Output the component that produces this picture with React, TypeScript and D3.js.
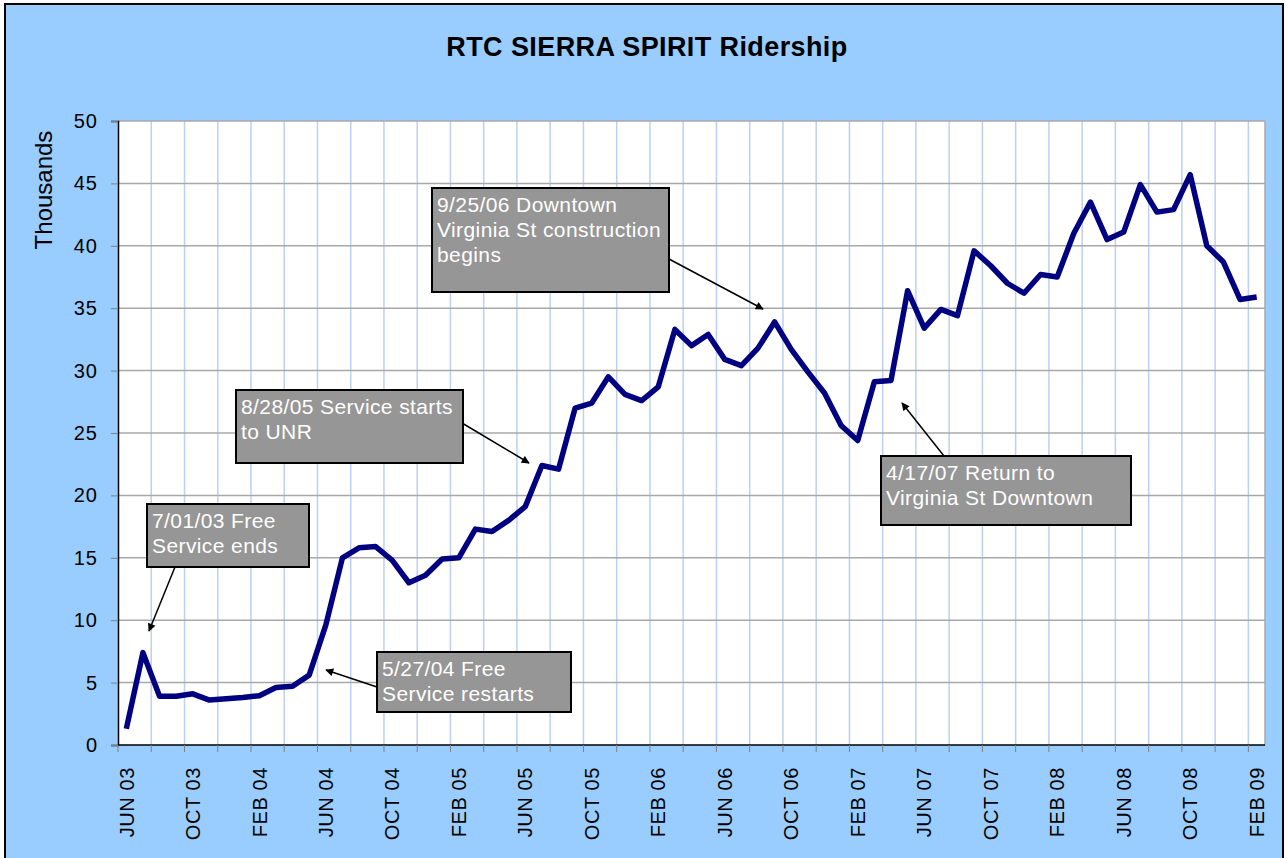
import React, { useEffect, useRef } from 'react';
import * as d3 from 'd3';

// monthly ridership, thousands, JUN 03 .. FEB 09
const riders = [
  1.3, 7.4, 3.9, 3.9, 4.1, 3.6, 3.7,
  3.8, 3.95, 4.6, 4.7, 5.6, 9.6, 15.0, 15.8, 15.9, 14.8, 13.0, 13.6,
  14.9, 15.0, 17.3, 17.1, 18.0, 19.1, 22.4, 22.1, 27.0, 27.4, 29.5, 28.1,
  27.6, 28.7, 33.3, 32.0, 32.9, 30.9, 30.4, 31.8, 33.9, 31.7, 29.9, 28.2,
  25.6, 24.4, 29.1, 29.2, 36.4, 33.4, 34.9, 34.4, 39.6, 38.4, 37.0, 36.2,
  37.7, 37.5, 41.0, 43.5, 40.5, 41.1, 44.9, 42.7, 42.9, 45.7, 40.0, 38.7,
  35.7, 35.9
];

const tickLabels = [
  'JUN 03', 'OCT 03', 'FEB 04', 'JUN 04', 'OCT 04', 'FEB 05', 'JUN 05', 'OCT 05', 'FEB 06',
  'JUN 06', 'OCT 06', 'FEB 07', 'JUN 07', 'OCT 07', 'FEB 08', 'JUN 08', 'OCT 08', 'FEB 09'
];

const yTicks = [0, 5, 10, 15, 20, 25, 30, 35, 40, 45, 50];

const noteTexts = [
  ['7/01/03 Free', 'Service ends'],
  ['5/27/04 Free', 'Service restarts'],
  ['8/28/05 Service starts', 'to UNR'],
  ['9/25/06 Downtown', 'Virginia St construction', 'begins'],
  ['4/17/07 Return to', 'Virginia St Downtown']
];

const App = () => {
  const ref = useRef<SVGSVGElement>(null);

  useEffect(() => {
    const svg = d3.select(ref.current);
    const W = 1286, H = 858;
    const left = 118, right = 1265, top = 121, bottom = 745;

    const idx = riders.map((d, i) => i);
    const x = d3.scaleBand<number>().domain(idx).range([left, right]);
    const y = d3.scaleLinear().domain([0, 50]).range([bottom, top]);
    const cx = (i: number) => (x(i) as number) + x.bandwidth() / 2;

    const defs = svg.append('defs');
    defs.append('marker')
      .attr('id', 'arrow')
      .attr('viewBox', '0 0 10 10')
      .attr('refX', 9).attr('refY', 5)
      .attr('markerWidth', 10).attr('markerHeight', 8)
      .attr('markerUnits', 'userSpaceOnUse')
      .attr('orient', 'auto')
      .append('path').attr('d', 'M0,0L10,5L0,10Z').attr('fill', '#000');

    // outer frame
    svg.append('rect')
      .attr('x', 5).attr('y', 4).attr('width', W - 8).attr('height', H)
      .attr('fill', '#99ccff').attr('stroke', '#000').attr('stroke-width', 2);

    svg.append('text')
      .attr('x', 647).attr('y', 56)
      .attr('text-anchor', 'middle')
      .style('font', 'bold 27px "Liberation Sans", Arial, sans-serif')
      .style('letter-spacing', '0.4px')
      .text('RTC SIERRA SPIRIT Ridership');

    // plot area
    svg.append('rect')
      .attr('x', left).attr('y', top).attr('width', right - left).attr('height', bottom - top)
      .attr('fill', '#fff');

    // vertical grid every two months
    const gridIdx = d3.range(2, riders.length, 2);
    svg.append('g').selectAll('line')
      .data(gridIdx).enter().append('line')
      .attr('x1', d => x(d) as number).attr('x2', d => x(d) as number)
      .attr('y1', top).attr('y2', bottom)
      .attr('stroke', '#bcd0f2').attr('stroke-width', 1.5);

    svg.append('g').selectAll('line')
      .data(yTicks.slice(1)).enter().append('line')
      .attr('x1', left).attr('x2', right)
      .attr('y1', d => y(d)).attr('y2', d => y(d))
      .attr('stroke', '#a8a8a8').attr('stroke-width', 1.5);

    // right edge
    svg.append('line')
      .attr('x1', right).attr('x2', right).attr('y1', top).attr('y2', bottom)
      .attr('stroke', '#a8a8a8').attr('stroke-width', 1.5);

    // y axis
    const yAxisG = svg.append('g')
      .attr('transform', 'translate(' + left + ',0)')
      .call(d3.axisLeft(y).tickValues(yTicks).tickSize(7).tickPadding(13));
    yAxisG.select('.domain').attr('stroke', '#000').attr('stroke-width', 1.5);
    yAxisG.selectAll('line').attr('stroke', '#808080');
    yAxisG.selectAll('text')
      .style('font', '20px "Liberation Sans", Arial, sans-serif')
      .style('letter-spacing', '1px')
      .attr('fill', '#000');

    svg.append('text')
      .attr('transform', 'translate(52,190) rotate(-90)')
      .attr('text-anchor', 'middle')
      .style('font', '24px "Liberation Sans", Arial, sans-serif')
      .text('Thousands');

    // x axis
    svg.append('line')
      .attr('x1', left).attr('x2', right).attr('y1', bottom).attr('y2', bottom)
      .attr('stroke', '#000').attr('stroke-width', 1.5);
    svg.append('g').selectAll('line')
      .data(d3.range(0, riders.length + 1, 2)).enter().append('line')
      .attr('x1', d => d < riders.length ? (x(d) as number) : right)
      .attr('x2', d => d < riders.length ? (x(d) as number) : right)
      .attr('y1', bottom).attr('y2', bottom + 7)
      .attr('stroke', '#808080').attr('stroke-width', 1);

    svg.append('g').selectAll('text')
      .data(tickLabels).enter().append('text')
      .attr('transform', (d, i) => 'translate(' + cx(i * 4) + ',767) rotate(-90)')
      .attr('dy', '0.36em')
      .attr('text-anchor', 'end')
      .style('font', '20px "Liberation Sans", Arial, sans-serif')
      .style('letter-spacing', '0.6px')
      .text(d => d);

    // ridership line
    const line = d3.line<number>()
      .x((d, i) => cx(i))
      .y(d => y(d));
    svg.append('path')
      .datum(riders)
      .attr('d', line)
      .attr('fill', 'none')
      .attr('stroke', '#000080')
      .attr('stroke-width', 5.5)
      .attr('stroke-linejoin', 'round');

    // annotation boxes: [x, y, w, h], arrow [x1, y1, x2, y2]
    const boxes = [
      { box: [147, 504, 162, 63], arrow: [175, 567, 149, 631] },
      { box: [377, 652, 194, 60], arrow: [377, 687, 326, 670] },
      { box: [236, 390, 227, 73], arrow: [462, 423, 529, 463] },
      { box: [432, 188, 237, 104], arrow: [669, 259, 763, 309] },
      { box: [881, 456, 250, 69], arrow: [944, 456, 902, 403] }
    ];

    boxes.forEach((b, k) => {
      const g = svg.append('g');
      g.append('line')
        .attr('x1', b.arrow[0]).attr('y1', b.arrow[1])
        .attr('x2', b.arrow[2]).attr('y2', b.arrow[3])
        .attr('stroke', '#000').attr('stroke-width', 1.5)
        .attr('marker-end', 'url(#arrow)');
      g.append('rect')
        .attr('x', b.box[0]).attr('y', b.box[1])
        .attr('width', b.box[2]).attr('height', b.box[3])
        .attr('fill', '#969696').attr('stroke', '#000').attr('stroke-width', 2);
      g.selectAll('text')
        .data(noteTexts[k]).enter().append('text')
        .attr('x', b.box[0] + 5)
        .attr('y', (d, i) => b.box[1] + 24 + i * 25)
        .attr('fill', '#fff')
        .style('font', '21px "Liberation Sans", Arial, sans-serif')
        .style('letter-spacing', '0.4px')
        .text(d => d);
    });

    return () => {
      svg.selectAll('*').remove();
    };
  }, []);

  return (
    <div style={{ position: 'absolute', left: 0, top: 0 }}>
      <svg ref={ref} width={1286} height={858} style={{ display: 'block' }}></svg>
    </div>
  );
};

export default App;
